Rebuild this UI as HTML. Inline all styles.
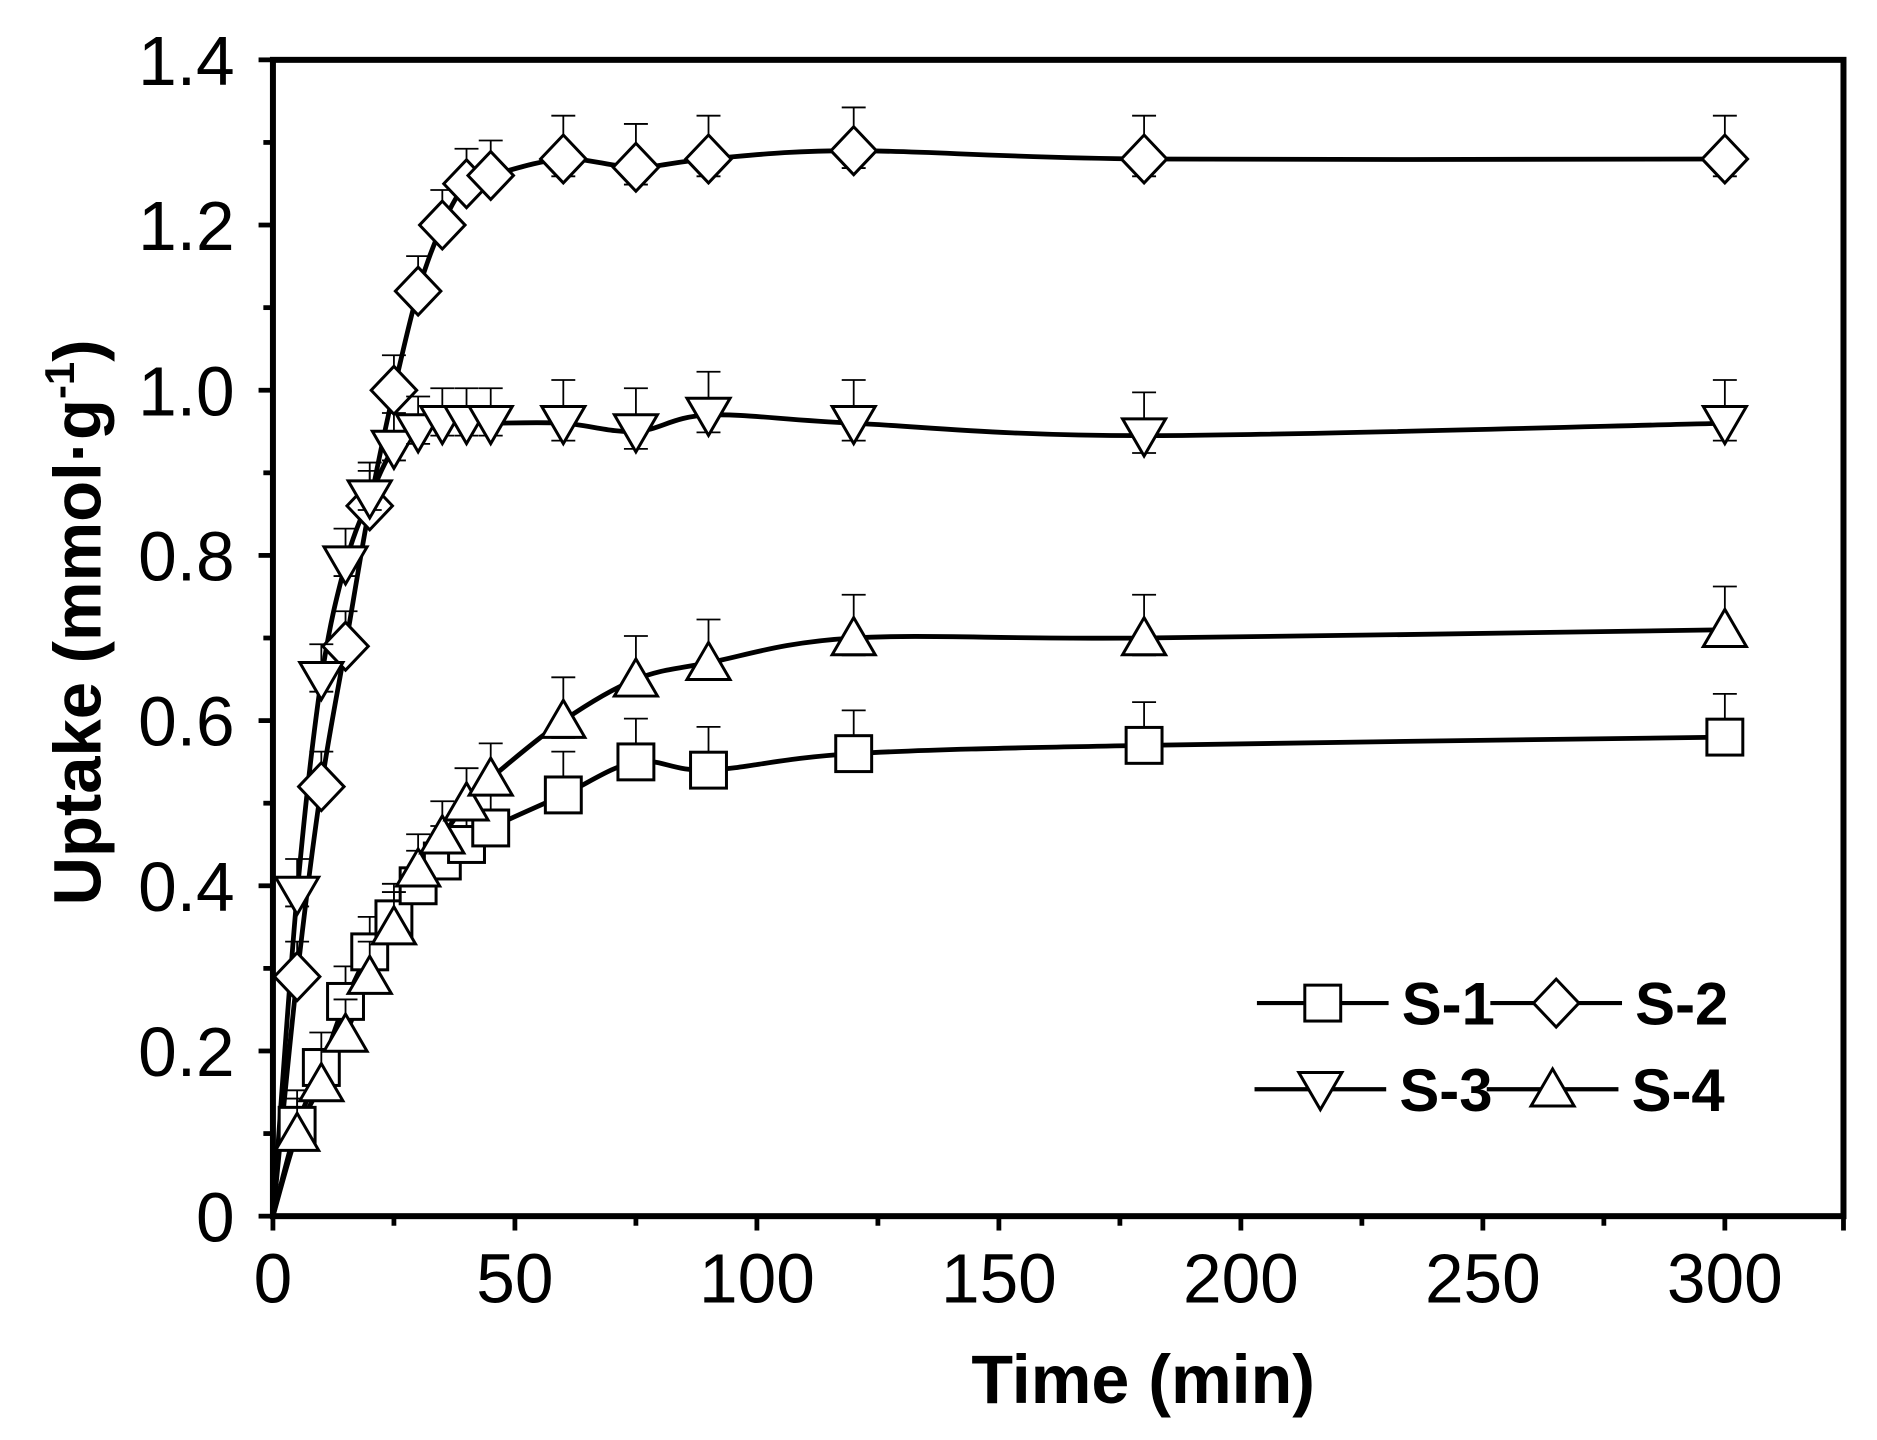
<!DOCTYPE html>
<html><head><meta charset="utf-8"><style>html,body{margin:0;padding:0;background:#fff}svg{display:block}</style></head>
<body>
<svg id="s" width="1877" height="1440" viewBox="0 0 1568 1203" preserveAspectRatio="none" xmlns="http://www.w3.org/2000/svg" font-family="Liberation Sans, Arial, sans-serif">
<rect width="1568" height="1203" fill="#fff"/>
<g id="g"></g>
</svg>
<script>
const g=document.getElementById('g');let h='';
const X=x=>228+x*4.043, Y=y=>1016-y*690;
h+='<rect x="228" y="50" width="1312" height="966" fill="none" stroke="#000" stroke-width="5"/>';
for(let i=0;i<=14;i++){const y=Y(i/10),maj=i%2==0;h+=`<line x1="${228-(maj?12:8)}" y1="${y}" x2="228" y2="${y}" stroke="#000" stroke-width="4"/>`;
 if(maj)h+=`<text x="196" y="${y+21}" font-size="58" text-anchor="end">${i==0?'0':(i/10).toFixed(1)}</text>`;}
for(let i=0;i<=13;i++){const xv=i*25,x=X(xv);if(x>1541)break;const maj=i%2==0;h+=`<line x1="${x}" y1="1016" x2="${x}" y2="${1016+(maj?12:8)}" stroke="#000" stroke-width="4"/>`;
 if(maj)h+=`<text x="${x}" y="${1088}" font-size="58" text-anchor="middle">${xv}</text>`;}
h+=`<line x1="1540" y1="1016" x2="1540" y2="1028" stroke="#000" stroke-width="4"/>`;
h+='<text x="955" y="1172" font-size="57" font-weight="bold" text-anchor="middle">Time (min)</text>';
h+='<text transform="translate(84,520) rotate(-90)" font-size="56" font-weight="bold" text-anchor="middle">Uptake (mmol·g<tspan dy="-22" font-size="35">-1</tspan><tspan dy="22">)</tspan></text>';
const t=[0,5,10,15,20,25,30,35,40,45,60,75,90,120,180,300];
const S=[
 ['sq',[0,0.11,0.18,0.26,0.32,0.36,0.40,0.43,0.45,0.47,0.51,0.55,0.54,0.56,0.57,0.58]],
 ['di',[0,0.29,0.52,0.69,0.86,1.0,1.12,1.2,1.25,1.26,1.28,1.27,1.28,1.29,1.28,1.28]],
 ['dn',[0,0.39,0.65,0.79,0.87,0.93,0.95,0.96,0.96,0.96,0.96,0.95,0.97,0.96,0.945,0.96]],
 ['up',[0,0.10,0.16,0.22,0.29,0.35,0.42,0.46,0.50,0.53,0.60,0.65,0.67,0.70,0.70,0.71]]];
function mk(k,x,y){const r=15;
 if(k=='sq')return `<rect x="${x-r}" y="${y-r}" width="${2*r}" height="${2*r}" fill="#fff" stroke="#000" stroke-width="2.5"/>`;
 if(k=='di')return `<polygon points="${x},${y-20} ${x+19},${y} ${x},${y+20} ${x-19},${y}" fill="#fff" stroke="#000" stroke-width="2.5"/>`;
 if(k=='dn')return `<polygon points="${x-18},${y-14} ${x+18},${y-14} ${x},${y+17}" fill="#fff" stroke="#000" stroke-width="2.5"/>`;
 return `<polygon points="${x-18},${y+14} ${x+18},${y+14} ${x},${y-17}" fill="#fff" stroke="#000" stroke-width="2.5"/>`;}
let lines='',marks='';
S.forEach(([k,v])=>{const p=t.map((tt,i)=>[X(tt),Y(v[i])]);
 let d='M'+p[0];for(let i=0;i<p.length-1;i++){const p0=p[Math.max(0,i-1)],p1=p[i],p2=p[i+1],p3=p[Math.min(p.length-1,i+2)];
  const c1=[p1[0]+(p2[0]-p0[0])/6,p1[1]+(p2[1]-p0[1])/6],c2=[p2[0]-(p3[0]-p1[0])/6,p2[1]-(p3[1]-p1[1])/6];d+=`C${c1} ${c2} ${p2}`;}
 lines+=`<path d="${d}" fill="none" stroke="#000" stroke-width="4"/>`;
 p.forEach(([x,y],i)=>{if(i==0)return;const e=(i<10?0.025:0.035)*690;
  marks+=`<line x1="${x}" y1="${y-e-12}" x2="${x}" y2="${y+e*0.6}" stroke="#000" stroke-width="1.5"/><line x1="${x-10}" y1="${y-e-12}" x2="${x+10}" y2="${y-e-12}" stroke="#000" stroke-width="1.5"/><line x1="${x-10}" y1="${y+e*0.6}" x2="${x+10}" y2="${y+e*0.6}" stroke="#000" stroke-width="1.5"/>`;
  marks+=mk(k,x,y);});});
h+=lines+marks;
[[1105,838,'sq','S-1'],[1300,838,'di','S-2'],[1103,910,'dn','S-3'],[1297,910,'up','S-4']].forEach(([x,y,k,l])=>{
 h+=`<line x1="${x-55}" y1="${y}" x2="${x+55}" y2="${y}" stroke="#000" stroke-width="3.5"/>`+mk(k,x,y)+`<text x="${x+66}" y="${y+18}" font-size="50" font-weight="bold">${l}</text>`;});
g.innerHTML=h;
</script>
</body></html>
